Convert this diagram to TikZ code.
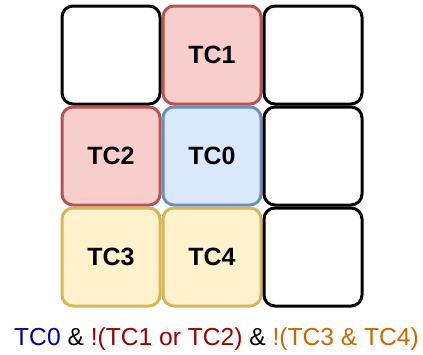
\documentclass[tikz,border=0pt]{standalone}
\usepackage{fontspec}
\setmainfont{Liberation Sans}
\definecolor{redfill}{HTML}{F8CECC}
\definecolor{redline}{HTML}{B85450}
\definecolor{bluefill}{HTML}{DAE8FC}
\definecolor{blueline}{HTML}{6C8EBF}
\definecolor{yelfill}{HTML}{FFF2CC}
\definecolor{yelline}{HTML}{D6B656}
\definecolor{tcblue}{HTML}{000099}
\definecolor{tcred}{HTML}{990000}
\definecolor{tcorange}{HTML}{CC6600}
\begin{document}
\begin{tikzpicture}[x=1pt,y=-1pt,
  cell/.style={draw=black, fill=white, line width=3pt, rounded corners=11pt,
    minimum width=98pt, minimum height=98pt, inner sep=0pt,
    font=\fontsize{25}{29}\selectfont\bfseries},
  redcell/.style={cell, draw=redline, fill=redfill},
  bluecell/.style={cell, draw=blueline, fill=bluefill},
  yelcell/.style={cell, draw=yelline, fill=yelfill}]
\useasboundingbox (0,0) rectangle (423,354);
% top row
\node[cell]     (a1) at (111,55)  {};
\node[redcell]  (b1) at (212,55)  {TC1};
\node[cell]     (c1) at (313,55)  {};
% middle row
\node[redcell]  (a2) at (111,156) {TC2};
\node[bluecell] (b2) at (212,156) {TC0};
\node[cell]     (c2) at (313,156) {};
% bottom row
\node[yelcell]  (a3) at (111,257) {TC3};
\node[yelcell]  (b3) at (212,257) {TC4};
\node[cell]     (c3) at (313,257) {};
% formula below the grid
\node[font=\fontsize{24.6}{29}\selectfont, inner sep=0pt, anchor=base] (expr) at (216.5,345)
  {\textcolor{tcblue}{TC0} \& \textcolor{tcred}{!(TC1 or TC2)} \& \textcolor{tcorange}{!(TC3 \& TC4)}};
\end{tikzpicture}
\end{document}
